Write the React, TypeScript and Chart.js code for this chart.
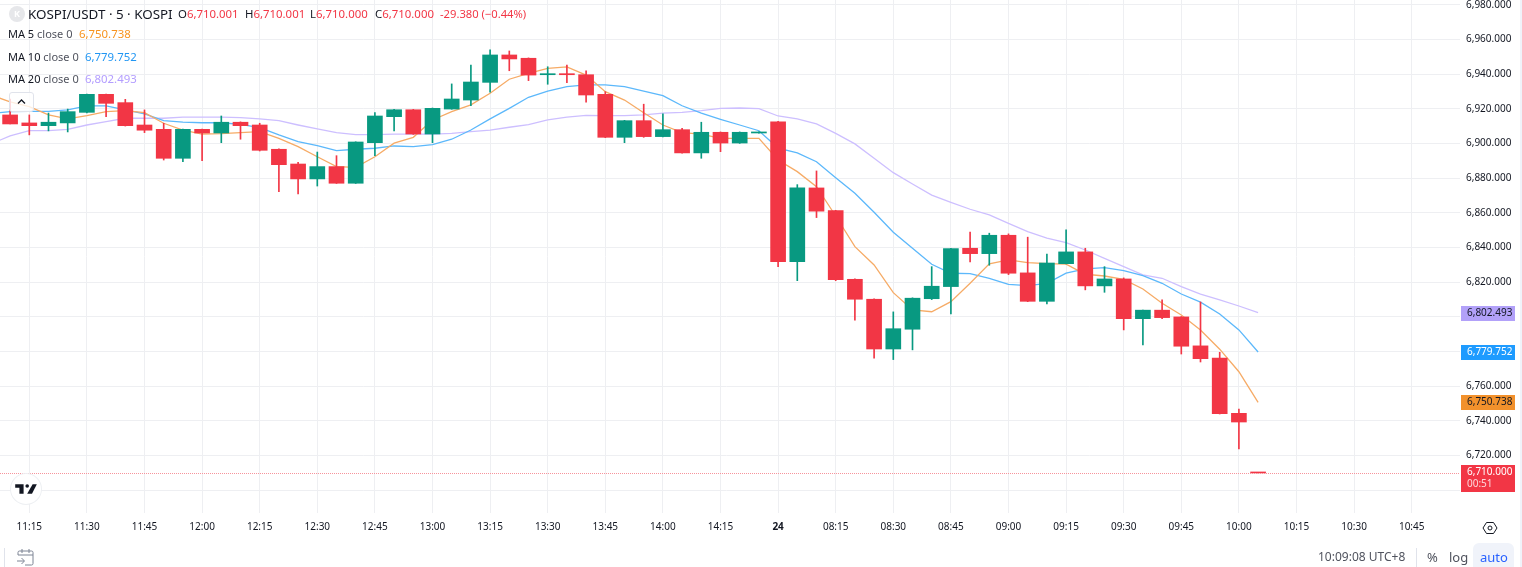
import React, { useEffect, useRef } from 'react';
import { Chart, registerables } from 'chart.js';

Chart.register(...registerables);

const firstCandle = -1;
const firstMa = -2;

const opens = [6916.5, 6911.9, 6910.3, 6911.9, 6918.0, 6928.4, 6923.6, 6910.7, 6908.2, 6891.5, 6908.2, 6906.1, 6912.3, 6910.7, 6896.7, 6888.2, 6879.6, 6886.7, 6877.1, 6900.5, 6915.5, 6919.5, 6905.5, 6919.9, 6925.1, 6935.3, 6951.1, 6949.2, 6939.7, 6940.3, 6939.7, 6928.4, 6903.6, 6913.2, 6904.0, 6908.0, 6894.6, 6906.5, 6900.3, 6906.1, 6912.6, 6831.9, 6874.4, 6861.3, 6821.7, 6810.2, 6781.5, 6792.9, 6810.5, 6817.5, 6839.6, 6836.5, 6847.1, 6825.4, 6809.0, 6830.7, 6837.5, 6817.9, 6821.9, 6799.0, 6803.9, 6800.0, 6783.3, 6776.2, 6744.4, 6710.001];
const highs = [6925.7, 6916.5, 6917.6, 6919.9, 6928.6, 6928.6, 6925.5, 6919.4, 6911.7, 6908.4, 6908.4, 6915.9, 6912.5, 6911.7, 6896.9, 6889.2, 6895.1, 6893.0, 6901.0, 6917.8, 6919.7, 6919.7, 6920.5, 6934.4, 6945.3, 6954.0, 6953.4, 6949.4, 6944.3, 6945.3, 6941.9, 6929.9, 6913.4, 6922.7, 6917.1, 6908.8, 6912.3, 6906.7, 6906.7, 6906.8, 6912.8, 6876.3, 6884.2, 6861.5, 6821.9, 6810.4, 6802.9, 6811.0, 6829.0, 6839.6, 6849.0, 6848.3, 6847.9, 6846.0, 6836.3, 6850.2, 6839.6, 6829.0, 6822.5, 6804.0, 6809.8, 6800.2, 6808.6, 6779.6, 6746.9, 6710.001];
const lows = [6911.3, 6905.0, 6907.3, 6906.7, 6917.6, 6915.5, 6910.1, 6906.3, 6890.5, 6889.5, 6890.1, 6900.5, 6902.5, 6895.7, 6872.2, 6870.9, 6875.5, 6877.0, 6877.0, 6893.0, 6907.3, 6905.3, 6900.5, 6919.8, 6921.8, 6929.6, 6942.0, 6936.3, 6934.2, 6935.1, 6923.8, 6903.4, 6900.5, 6903.6, 6903.8, 6894.4, 6891.5, 6895.3, 6900.1, 6906.0, 6829.0, 6820.9, 6857.3, 6820.9, 6798.1, 6776.2, 6775.4, 6781.0, 6810.0, 6801.7, 6831.7, 6829.8, 6824.4, 6808.8, 6807.5, 6830.5, 6815.6, 6814.2, 6792.5, 6783.8, 6799.0, 6778.6, 6774.0, 6744.0, 6723.9, 6710.0];
const closes = [6911.3, 6910.3, 6912.3, 6918.4, 6928.4, 6923.2, 6910.3, 6907.7, 6891.5, 6908.2, 6906.1, 6912.3, 6910.3, 6896.1, 6887.8, 6879.6, 6886.7, 6877.1, 6900.9, 6915.9, 6919.5, 6905.5, 6920.3, 6925.7, 6935.5, 6951.1, 6948.8, 6939.5, 6940.3, 6939.7, 6928.0, 6903.6, 6913.2, 6904.0, 6908.0, 6894.6, 6906.5, 6900.3, 6906.5, 6906.7, 6831.9, 6874.4, 6861.0, 6821.5, 6810.2, 6781.5, 6793.2, 6810.8, 6817.7, 6839.4, 6836.5, 6847.1, 6825.2, 6809.0, 6831.1, 6837.5, 6817.9, 6821.9, 6799.0, 6803.9, 6799.6, 6783.1, 6775.9, 6744.2, 6739.38, 6710.0];

const ma5 = [6928.0, 6924.0, 6921.3, 6916.5, 6914.2, 6916.1, 6918.4, 6919.0, 6917.8, 6911.7, 6907.8, 6905.5, 6905.7, 6906.3, 6906.9, 6903.0, 6898.2, 6892.4, 6886.7, 6886.3, 6892.4, 6900.2, 6903.6, 6913.6, 6918.4, 6922.3, 6929.0, 6937.1, 6940.5, 6943.4, 6944.2, 6939.5, 6929.9, 6925.1, 6917.8, 6910.7, 6906.3, 6905.4, 6903.0, 6903.0, 6903.0, 6890.5, 6883.8, 6875.1, 6858.2, 6840.5, 6830.0, 6814.0, 6804.0, 6803.0, 6808.8, 6819.4, 6830.6, 6832.9, 6831.3, 6830.7, 6830.4, 6824.6, 6823.6, 6821.7, 6816.1, 6807.9, 6801.1, 6792.5, 6781.4, 6768.4, 6750.738];
const ma10 = [6917.3, 6918.4, 6918.6, 6918.6, 6919.4, 6921.7, 6921.7, 6919.4, 6917.1, 6913.2, 6912.3, 6912.0, 6912.0, 6911.1, 6909.2, 6905.0, 6901.1, 6898.8, 6895.9, 6896.7, 6897.3, 6898.6, 6898.2, 6899.4, 6902.5, 6907.8, 6914.2, 6920.3, 6926.7, 6930.3, 6932.8, 6933.8, 6933.8, 6932.8, 6930.3, 6927.6, 6921.8, 6917.5, 6914.0, 6910.7, 6907.4, 6897.4, 6894.6, 6889.5, 6880.3, 6871.3, 6860.4, 6848.8, 6839.6, 6830.4, 6825.2, 6825.0, 6822.3, 6818.8, 6818.0, 6819.4, 6825.2, 6827.7, 6828.4, 6826.7, 6823.8, 6819.4, 6813.2, 6808.5, 6801.7, 6792.5, 6779.752];
const ma20 = [6899.8, 6904.4, 6907.4, 6907.4, 6908.2, 6910.7, 6912.6, 6914.6, 6914.6, 6914.6, 6915.2, 6915.2, 6915.2, 6914.9, 6914.2, 6913.2, 6910.7, 6908.4, 6906.3, 6905.1, 6905.1, 6905.4, 6905.4, 6905.4, 6905.9, 6906.9, 6907.8, 6909.4, 6910.9, 6913.6, 6915.2, 6916.3, 6916.1, 6916.1, 6916.5, 6917.5, 6918.0, 6919.0, 6920.3, 6920.5, 6920.1, 6915.9, 6914.2, 6911.3, 6905.9, 6899.8, 6891.5, 6883.2, 6876.7, 6870.3, 6866.1, 6862.1, 6858.8, 6854.0, 6849.2, 6845.4, 6842.8, 6838.6, 6833.8, 6829.0, 6824.2, 6822.3, 6817.5, 6813.2, 6809.8, 6806.3, 6802.493];

const timeLabels = ['11:15', '11:30', '11:45', '12:00', '12:15', '12:30', '12:45', '13:00', '13:15', '13:30', '13:45', '14:00', '14:15', '24', '08:15', '08:30', '08:45', '09:00', '09:15', '09:30', '09:45', '10:00', '10:15', '10:30', '10:45'];
const priceTicks = [6700, 6720, 6740, 6760, 6780, 6800, 6820, 6840, 6860, 6880, 6900, 6920, 6940, 6960, 6980];
const hiddenPriceTicks = [6700, 6780, 6800];

const lastPrice = 6710;
const countdown = '00:51';
const tagValues = [6802.493, 6779.752, 6750.738];
const tagFills = ['#b2a1f9', '#1e9bff', '#f2912c'];
const tagInks = ['#131722', '#ffffff', '#131722'];

const GREEN = '#089981';
const RED = '#f23645';
const AXIS_FONT = '"Noto Sans", sans-serif';

const fmt = (v: number) =>
  v.toLocaleString('en-US', { minimumFractionDigits: 3, maximumFractionDigits: 3 });

const candleColors = opens.map((o, i) => (closes[i] >= o ? GREEN : RED));

const maSeries = (values: number[], color: string) => ({
  type: 'line' as const,
  data: values.map((y, i) => ({ x: i + firstMa, y })),
  borderColor: color,
  borderWidth: 1.3,
  pointRadius: 0,
  tension: 0,
  order: 3,
});

// dotted last price line and the coloured labels on the price axis
const priceTags = {
  id: 'priceTags',
  afterDraw(chart: any) {
    const { ctx, scales } = chart;
    const y = scales.y;
    ctx.save();
    const py = Math.round(y.getPixelForValue(lastPrice)) + 0.5;
    ctx.strokeStyle = '#f7939b';
    ctx.setLineDash([1, 1]);
    ctx.beginPath();
    ctx.moveTo(0, py);
    ctx.lineTo(1459, py);
    ctx.stroke();
    ctx.setLineDash([]);

    ctx.font = `10px ${AXIS_FONT}`;
    ctx.textBaseline = 'middle';
    ctx.textAlign = 'left';
    tagValues.forEach((v, i) => {
      const c = y.getPixelForValue(v);
      ctx.fillStyle = tagFills[i];
      ctx.fillRect(1461, Math.round(c) - 7, 54, 15);
      ctx.fillStyle = tagInks[i];
      ctx.fillText(fmt(v), 1467, Math.round(c) + 0.5);
    });
    ctx.fillStyle = RED;
    ctx.fillRect(1461, py - 8.5, 54, 27);
    ctx.fillStyle = '#ffffff';
    ctx.fillText(fmt(lastPrice), 1467, py - 1);
    ctx.fillStyle = 'rgba(255,255,255,0.8)';
    ctx.fillText(countdown, 1467, py + 11);
    ctx.restore();
  },
};

const PriceChart: React.FC = () => {
  const canvasRef = useRef<HTMLCanvasElement>(null);

  useEffect(() => {
    if (!canvasRef.current) return;
    const chart = new Chart(canvasRef.current, {
      type: 'bar',
      data: {
        datasets: [
          {
            data: opens.map((o, i) => ({ x: i + firstCandle, y: [o, closes[i]] })),
            backgroundColor: candleColors,
            barThickness: 15,
            minBarLength: 1,
            grouped: false,
            order: 1,
          },
          {
            data: highs.map((h, i) => ({ x: i + firstCandle, y: [lows[i], h] })),
            backgroundColor: candleColors,
            barThickness: 1,
            grouped: false,
            order: 2,
          },
          maSeries(ma5, '#f6ab66'),
          maSeries(ma10, '#5cb8fb'),
          maSeries(ma20, '#cdbfff'),
        ] as any,
      },
      options: {
        responsive: false,
        devicePixelRatio: 1,
        animation: false,
        layout: { padding: 0 },
        plugins: { legend: { display: false }, tooltip: { enabled: false } },
        scales: {
          x: {
            type: 'linear',
            offset: false,
            min: -1.526,
            max: 74.151,
            border: { display: false },
            grid: { color: '#eeeff2', drawTicks: false, offset: false },
            afterBuildTicks: (s: any) => {
              s.ticks = timeLabels.map((_, i) => ({ value: i * 3 }));
            },
            afterFit: (s: any) => {
              s.height = 54;
              s.paddingLeft = 0;
              s.paddingRight = 0;
            },
            ticks: {
              autoSkip: false,
              maxRotation: 0,
              padding: 8,
              color: '#131722',
              font: (c: any) => ({
                family: AXIS_FONT,
                size: 10,
                weight: timeLabels[c.tick?.value / 3] === '24' ? 'bold' : 'normal',
              }),
              callback: (v: any) => timeLabels[v / 3],
            },
          },
          y: {
            type: 'linear',
            position: 'right',
            min: 6686.9,
            max: 6982.8,
            border: { display: false },
            grid: { color: '#eeeff2', tickLength: 7 },
            afterBuildTicks: (s: any) => {
              s.ticks = priceTicks.map((value) => ({ value }));
            },
            afterFit: (s: any) => {
              s.width = 69;
              s.paddingTop = 0;
              s.paddingBottom = 0;
            },
            ticks: {
              padding: 6,
              color: '#131722',
              font: { family: AXIS_FONT, size: 10 },
              callback: (v: any) => (hiddenPriceTicks.includes(v) ? '' : fmt(v)),
            },
          },
        },
      } as any,
      plugins: [priceTags],
    });
    return () => chart.destroy();
  }, []);

  return <canvas ref={canvasRef} width={1522} height={567} style={{ display: 'block' }} />;
};

const abs = (left: number, top: number, extra: React.CSSProperties = {}): React.CSSProperties => ({
  position: 'absolute',
  left,
  top,
  whiteSpace: 'nowrap',
  ...extra,
});

const ohlc = [
  ['O', '6,710.001', 178],
  ['H', '6,710.001', 245],
  ['L', '6,710.000', 310],
  ['C', '6,710.000', 375],
] as const;

const maRows = [
  ['MA 5', '6,750.738', '#f7931e', 26, 79],
  ['MA 10', '6,779.752', '#2196f3', 49, 85],
  ['MA 20', '6,802.493', '#b39dff', 71, 85],
] as const;

const App: React.FC = () => (
  <div
    style={{
      position: 'absolute',
      left: 0,
      top: 0,
      width: 1522,
      height: 567,
      overflow: 'hidden',
      background: '#fff',
      fontFamily: '"Noto Sans", sans-serif',
      color: '#131722',
    }}
  >
    <PriceChart />

    {/* legend */}
    <div style={abs(9, 6, { width: 16, height: 16, borderRadius: 8, background: '#e6e7ea', color: '#fff', fontSize: 9, fontWeight: 700, textAlign: 'center', lineHeight: '16px' })}>K</div>
    <div style={abs(28, 5, { fontSize: 13.4, lineHeight: '18px' })}>KOSPI/USDT · 5 · KOSPI</div>
    {ohlc.map(([k, v, x]) => (
      <div key={k} style={abs(x, 6, { fontSize: 11.4, lineHeight: '16px' })}>
        {k}
        <span style={{ color: RED }}>{v}</span>
      </div>
    ))}
    <div style={abs(440, 6, { fontSize: 11.2, lineHeight: '16px', color: RED })}>-29.380 (−0.44%)</div>
    {maRows.map(([name, value, color, top, vx]) => (
      <React.Fragment key={name}>
        <div style={abs(8, top, { fontSize: 11, lineHeight: '16px' })}>
          {name} <span style={{ color: '#50535e' }}>close 0</span>
        </div>
        <div style={abs(vx, top, { fontSize: 11.4, lineHeight: '16px', color })}>{value}</div>
      </React.Fragment>
    ))}
    <div style={abs(9, 92, { width: 25, height: 20, boxSizing: 'border-box', border: '1px solid #e0e3eb', borderRadius: 3, background: 'rgba(255,255,255,0.8)' })}>
      <svg width="23" height="18" style={{ display: 'block' }}>
        <path d="M8 10.5l3.5-3.5 3.5 3.5" fill="none" stroke="#131722" strokeWidth="1.3" />
      </svg>
    </div>

    {/* TradingView badge */}
    <div style={abs(11, 474, { width: 30, height: 30, borderRadius: 15, background: '#fff', boxShadow: '0 0 0 1px #eef0f3' })}>
      <svg width="22" height="12" viewBox="0 0 36 20" style={{ position: 'absolute', left: 4, top: 9 }}>
        <path d="M14 2H0v6h7v10h7V2z" fill="#131722" />
        <circle cx="20" cy="5" r="3" fill="#131722" />
        <path d="M29 2h7l-8 16h-8l9-16z" fill="#131722" />
      </svg>
    </div>

    {/* settings hexagon */}
    <svg width="16" height="16" style={abs(1482, 520)}>
      <path d="M4.5 2.5h7L15 8l-3.5 5.5h-7L1 8z" fill="none" stroke="#131722" strokeWidth="1" />
      <circle cx="8" cy="8" r="2" fill="none" stroke="#131722" strokeWidth="1" />
    </svg>

    {/* bottom bar */}
    <div style={abs(4, 548, { width: 1, height: 19, background: '#e0e3eb' })} />
    <svg width="20" height="20" style={abs(16, 547)}>
      <path d="M2 8V5.5A1.5 1.5 0 013.5 4h12A1.5 1.5 0 0117 5.5v11a1.5 1.5 0 01-1.5 1.5H9M2 8h15M6 2v4M13 2v4M1 14h7M5.5 11l3 3-3 3" fill="none" stroke="#7d8494" strokeWidth="1" />
    </svg>
    <div style={abs(1318, 549, { fontSize: 12, lineHeight: '16px', color: '#50535e' })}>10:09:08 UTC+8</div>
    <div style={abs(1416, 548, { width: 1, height: 19, background: '#e0e3eb' })} />
    <div style={abs(1427, 549, { fontSize: 13, lineHeight: '16px', color: '#50535e' })}>%</div>
    <div style={abs(1449, 549, { fontSize: 13, lineHeight: '16px', color: '#50535e' })}>log</div>
    <div style={abs(1473, 543, { width: 41, height: 24, borderRadius: '6px 6px 0 0', background: '#f0f3fa' })} />
    <div style={abs(1480, 549, { fontSize: 13, lineHeight: '16px', color: '#2962ff' })}>auto</div>
    <div style={abs(1520, 0, { width: 2, height: 567, background: '#f0f3fa' })} />
  </div>
);

export default App;
